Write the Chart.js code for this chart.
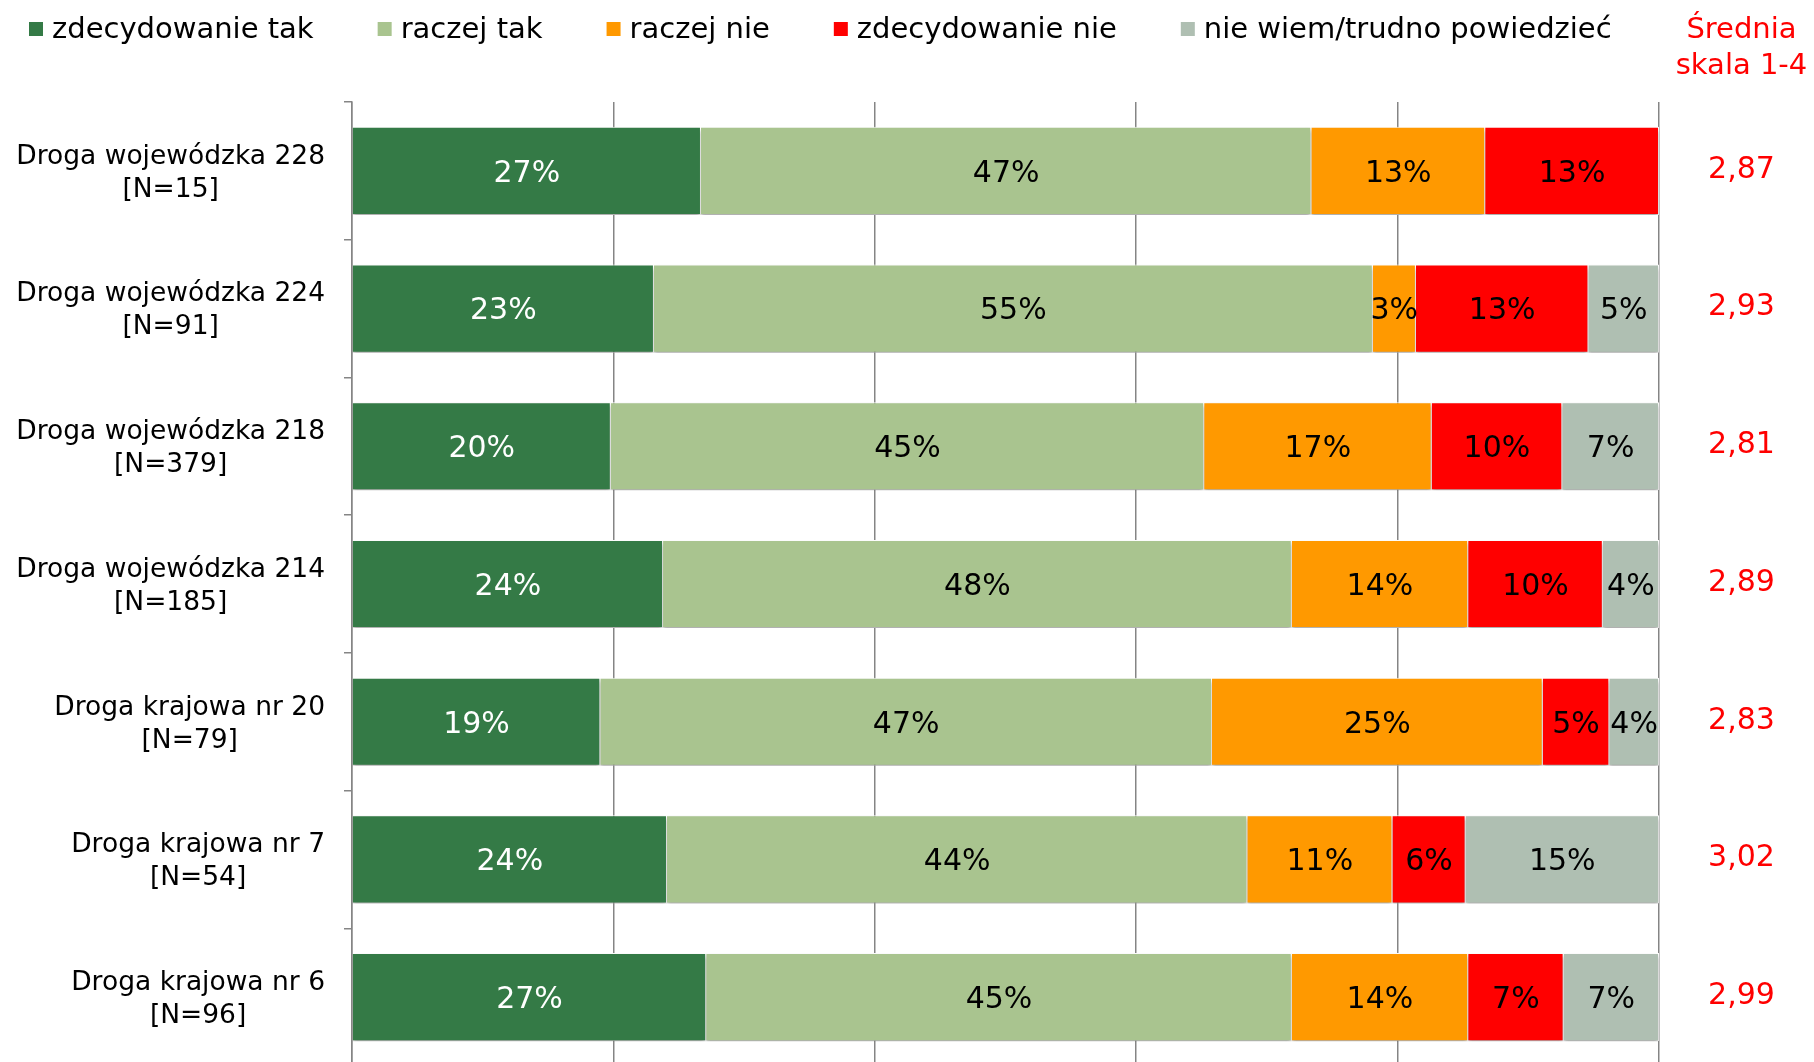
<!DOCTYPE html>
<html>
<head>
<meta charset="utf-8">
<script src="https://cdn.jsdelivr.net/npm/chart.js@4/dist/chart.umd.min.js"></script>
<style>
  html, body { margin: 0; padding: 0; background: #fff; overflow: hidden; }
  #wrap { width: 1814px; height: 1062px; overflow: hidden; }
</style>
</head>
<body>
<div id="wrap"><canvas id="chart" width="1814" height="1066"></canvas></div>
<script>
const roads = [
  'Droga wojewódzka 228',
  'Droga wojewódzka 224',
  'Droga wojewódzka 218',
  'Droga wojewódzka 214',
  'Droga krajowa nr 20',
  'Droga krajowa nr 7',
  'Droga krajowa nr 6',
];
const sampleSizes = [15, 91, 379, 185, 79, 54, 96];

const seriesNames = ['zdecydowanie tak', 'raczej tak', 'raczej nie', 'zdecydowanie nie', 'nie wiem/trudno powiedzieć'];
const seriesColors = ['#347a46', '#a9c48f', '#ff9900', '#ff0000', '#afbfb2'];

const definitelyYes = [26.7, 23.1, 19.8, 23.8, 19.0, 24.1, 27.1];
const ratherYes = [46.7, 55.0, 45.4, 48.1, 46.8, 44.4, 44.8];
const ratherNo = [13.3, 3.3, 17.4, 13.5, 25.3, 11.1, 13.5];
const definitelyNo = [13.3, 13.2, 10.0, 10.3, 5.1, 5.6, 7.3];
const dontKnow = [0, 5.4, 7.4, 4.3, 3.8, 14.8, 7.3];

const averages = [2.87, 2.93, 2.81, 2.89, 2.83, 3.02, 2.99];
const averageTitle = ['Średnia', 'skala 1-4'];

const xTicks = [0, 20, 40, 60, 80, 100];

const FONT = '"DejaVu Sans", Verdana, sans-serif';

const barShadow = {
  id: 'barShadow',
  beforeDatasetsDraw(chart) {
    const ctx = chart.ctx;
    ctx.save();
    ctx.shadowColor = 'rgba(0,0,0,0.35)';
    ctx.shadowBlur = 4;
    ctx.shadowOffsetY = 3;
  },
  afterDatasetsDraw(chart) {
    chart.ctx.restore();
  },
};

const valueLabels = {
  id: 'valueLabels',
  afterDatasetsDraw(chart) {
    const ctx = chart.ctx;
    ctx.save();
    ctx.font = '30px ' + FONT;
    ctx.textAlign = 'center';
    ctx.textBaseline = 'middle';
    chart.data.datasets.forEach((ds, di) => {
      const meta = chart.getDatasetMeta(di);
      ctx.fillStyle = di === 0 ? '#ffffff' : '#000000';
      meta.data.forEach((bar, i) => {
        const v = ds.data[i];
        if (!v) return;
        const cx = (bar.x + bar.base) / 2;
        ctx.fillText(Math.round(v) + '%', cx, bar.y + 3);
      });
    });
    ctx.restore();
  },
};

const sideTexts = {
  id: 'sideTexts',
  afterDraw(chart) {
    const ctx = chart.ctx;
    const y = chart.scales.y;
    const area = chart.chartArea;
    ctx.save();

    // category labels, two lines, second line centred under the first
    ctx.font = '26.5px ' + FONT;
    ctx.fillStyle = '#000';
    ctx.textBaseline = 'middle';
    const rightX = 325;
    roads.forEach((name, i) => {
      const cy = y.getPixelForValue(i);
      const w = ctx.measureText(name).width;
      ctx.textAlign = 'right';
      ctx.fillText(name, rightX, cy - 14);
      ctx.textAlign = 'center';
      ctx.fillText('[N=' + sampleSizes[i] + ']', rightX - w / 2, cy + 19);
    });

    // averages column
    const colX = (area.right + chart.width) / 2 + 5;
    ctx.fillStyle = '#ff0000';
    ctx.textAlign = 'center';
    ctx.font = '29px ' + FONT;
    ctx.fillText(averageTitle[0], colX, 30);
    ctx.fillText(averageTitle[1], colX, 66);
    ctx.font = '30px ' + FONT;
    averages.forEach((a, i) => {
      ctx.fillText(a.toFixed(2).replace('.', ','), colX, y.getPixelForValue(i) - 1);
    });

    // legend
    ctx.font = '29px ' + FONT;
    ctx.textAlign = 'left';
    let lx = 29;
    chart.data.datasets.forEach((ds) => {
      ctx.fillStyle = ds.backgroundColor;
      ctx.fillRect(lx, 22, 14, 14);
      ctx.fillStyle = '#000';
      ctx.fillText(ds.label, lx + 23, 30);
      lx += 23 + ctx.measureText(ds.label).width + 64;
    });

    ctx.restore();
  },
};

const seriesData = [definitelyYes, ratherYes, ratherNo, definitelyNo, dontKnow];

new Chart(document.getElementById('chart').getContext('2d'), {
  type: 'bar',
  data: {
    labels: roads,
    datasets: seriesNames.map((name, i) => ({
      label: name,
      data: seriesData[i],
      backgroundColor: seriesColors[i],
      borderColor: '#ffffff',
      borderWidth: 1,
      barPercentage: 0.64,
      categoryPercentage: 1,
    })),
  },
  options: {
    indexAxis: 'y',
    responsive: false,
    animation: false,
    devicePixelRatio: 1,
    layout: { padding: { top: 102, left: 344, right: 155, bottom: 0 } },
    plugins: {
      legend: { display: false },
      tooltip: { enabled: false },
    },
    scales: {
      x: {
        stacked: true,
        min: 0,
        max: 100,
        afterBuildTicks: (scale) => { scale.ticks = xTicks.map(v => ({ value: v })); },
        ticks: { display: false },
        grid: { color: '#858585', lineWidth: 1.5, drawTicks: false },
        border: { display: false },
      },
      y: {
        stacked: true,
        ticks: { display: false },
        grid: { offset: true, drawOnChartArea: false, drawTicks: true, tickLength: 8, color: '#858585', lineWidth: 1.5 },
        border: { display: true, color: '#858585', width: 1.5 },
      },
    },
  },
  plugins: [barShadow, valueLabels, sideTexts],
});
</script>
</body>
</html>
